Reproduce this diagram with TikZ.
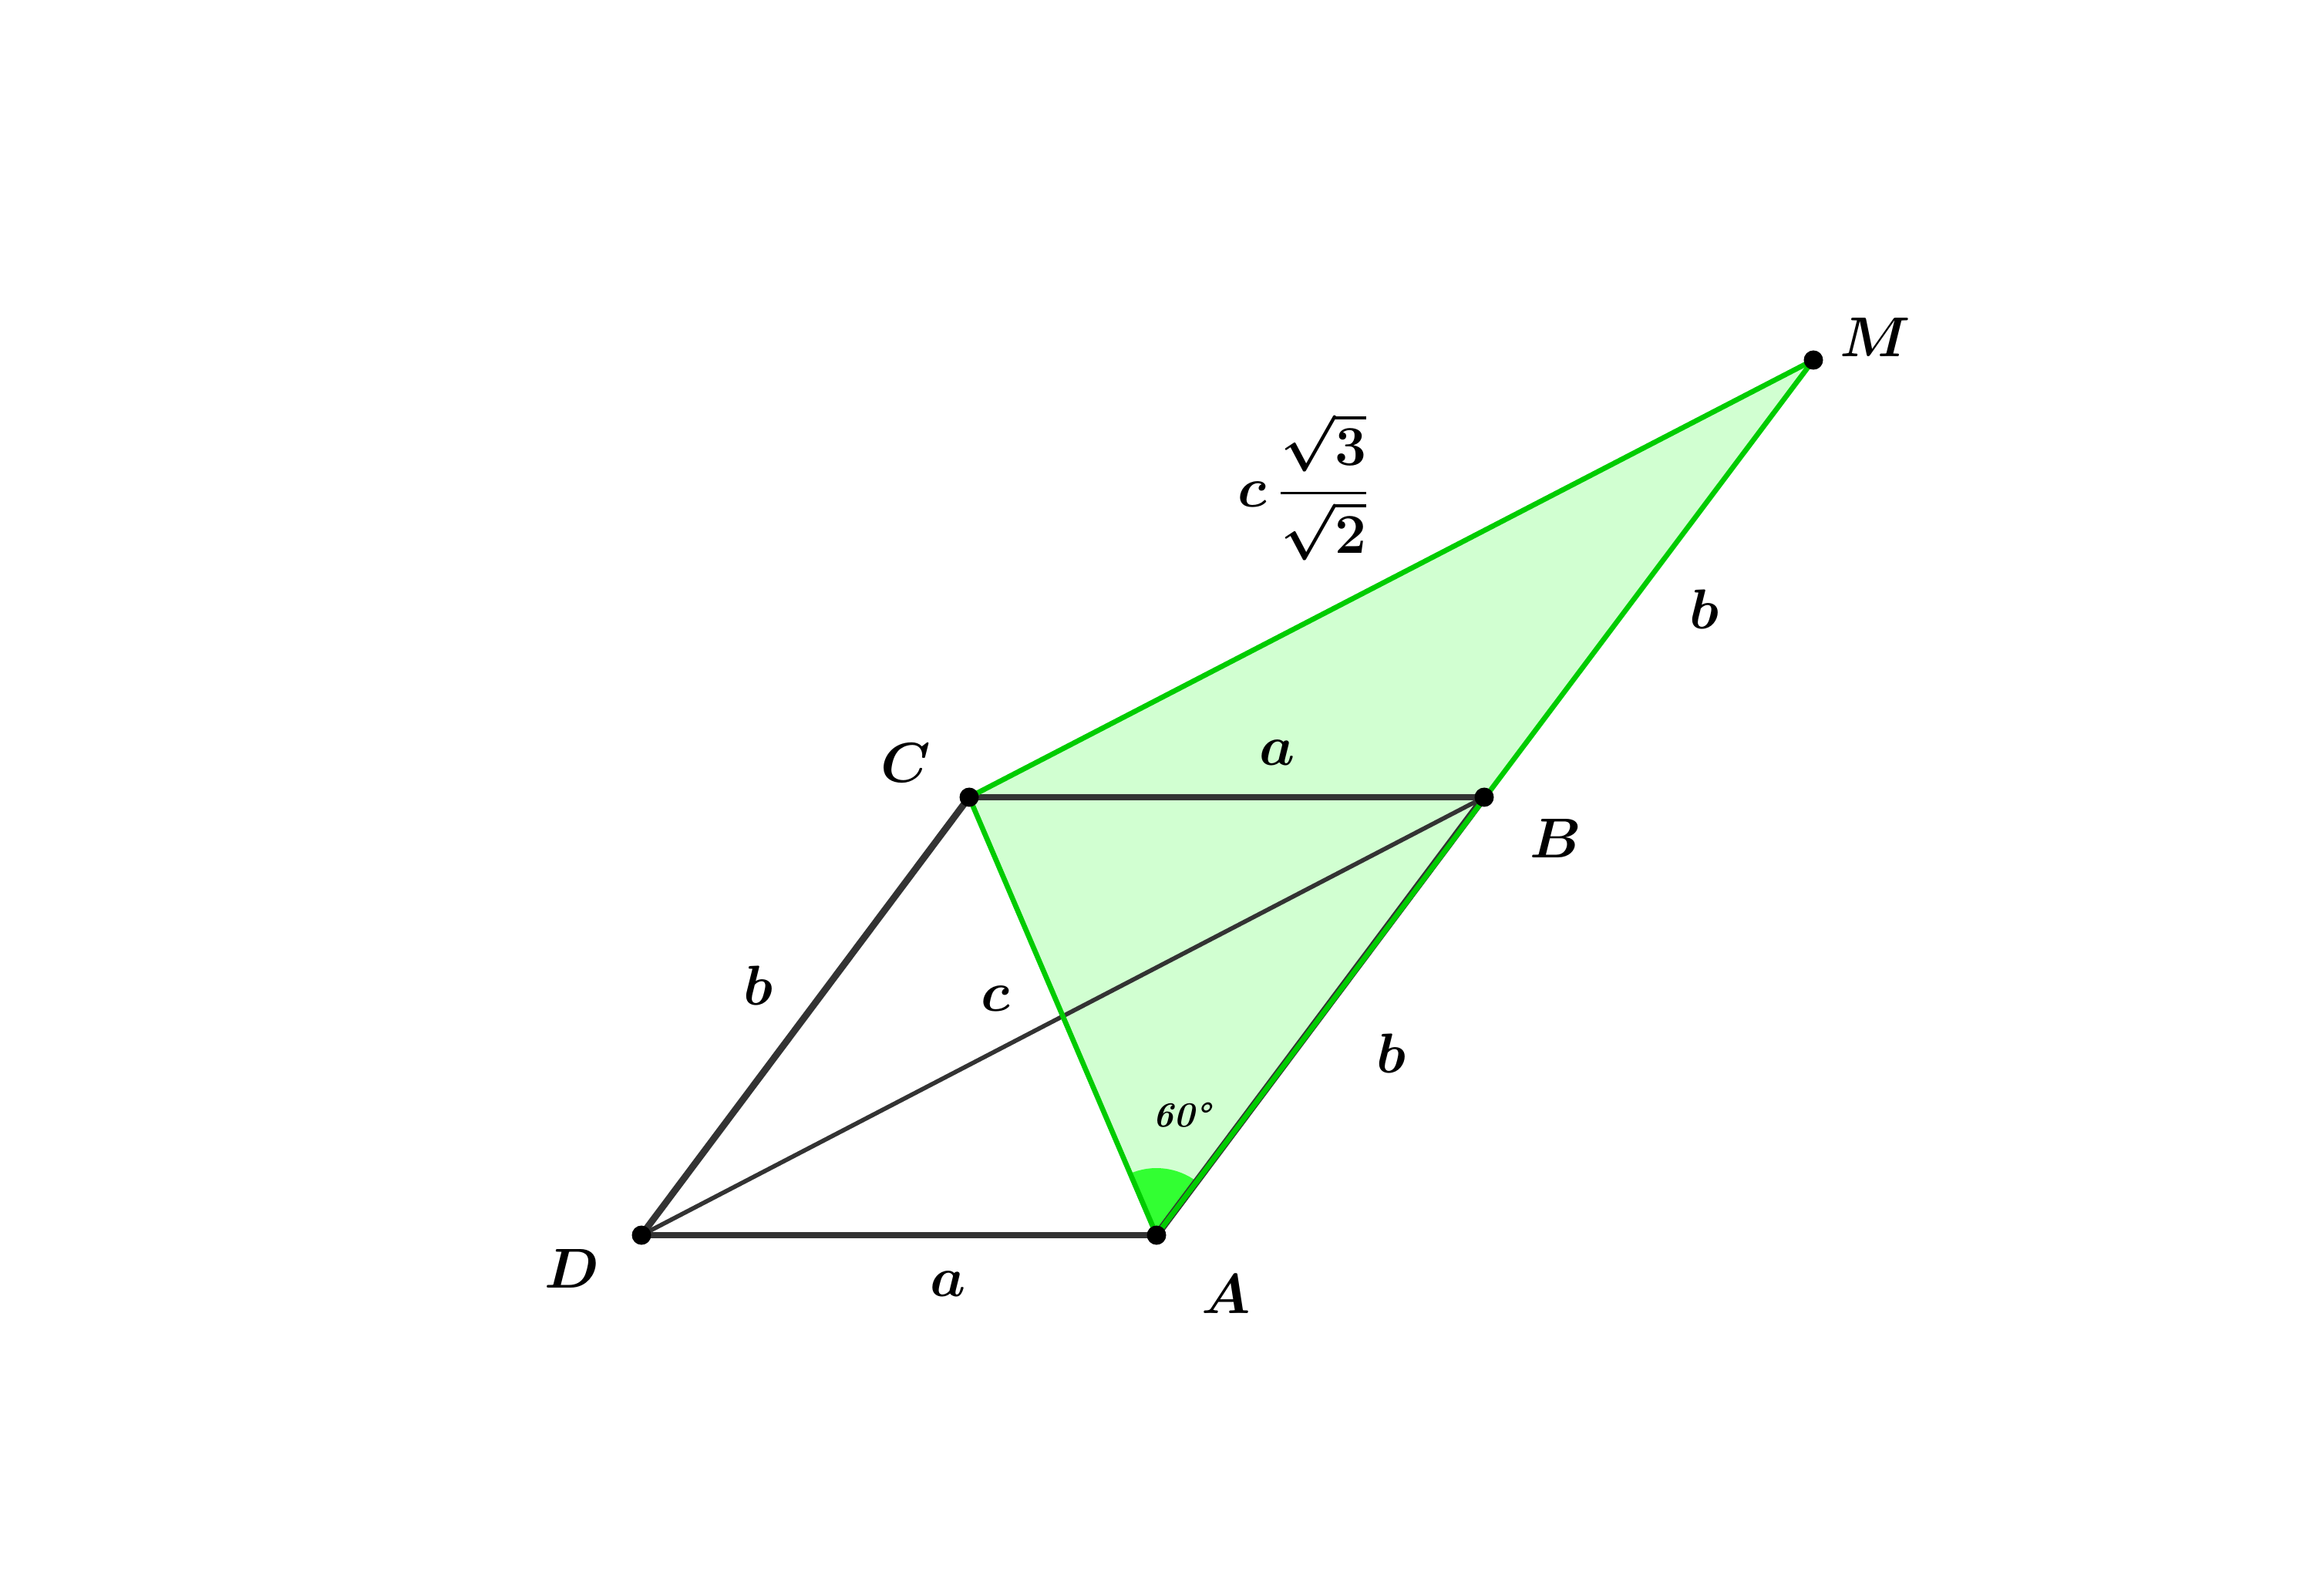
\documentclass[tikz,border=0pt]{standalone}
\usepackage{fontspec}
\usepackage{amsmath,amssymb}
\definecolor{gline}{RGB}{0,204,0}
\definecolor{gfill}{RGB}{0,255,0}
\definecolor{gsector}{RGB}{50,255,50}
\definecolor{dline}{RGB}{51,51,51}
\begin{document}
\begin{tikzpicture}[x=1cm,y=1cm,
  lbl/.style={font=\fontsize{20}{24}\selectfont\boldmath},
  darkedge/.style={draw=dline,line width=2.5pt},
  thinedge/.style={draw=dline,line width=1.6pt},
  greenedge/.style={draw=gline,line width=1.9pt},
  pt/.style={fill=black}]
\useasboundingbox (0,0) rectangle (30,20.69);
\coordinate (D) at (8.32,4.67);
\coordinate (A) at (15.00,4.67);
\coordinate (C) at (12.57,10.35);
\coordinate (B) at (19.25,10.35);
\coordinate (M) at (23.52,16.02);
% fill
\fill[gfill,opacity=0.18] (C) -- (M) -- (A) -- cycle;
% angle sector
\fill[gsector] (A) -- ++(113.2:0.87) arc[start angle=113.2,end angle=53.2,radius=0.87] -- cycle;
% dark lines
\draw[darkedge] (D) -- (A);
\draw[darkedge] (D) -- (C);
\draw[darkedge] (C) -- (B);
\draw[thinedge] (D) -- (B);
\draw[dline,line width=2.7pt] (A) -- (B);
% green lines
\draw[greenedge] (C) -- (M);
\draw[greenedge] (M) -- (A);
\draw[greenedge] (C) -- (A);
% points
\foreach \p in {D,A,C,B,M} \fill[pt] (\p) circle (0.125);
% labels
\node[lbl] (lM) at (24.32,16.31) {$\boldsymbol{M}$};
\node[lbl] (lC) at (11.75,10.80) {$\boldsymbol{C}$};
\node[lbl] (lB) at (20.18,9.82) {$\boldsymbol{B}$};
\node[lbl] (lD) at (7.42,4.24) {$\boldsymbol{D}$};
\node[lbl] (lA) at (15.90,3.91) {$\boldsymbol{A}$};
\node[lbl] (la1) at (16.57,10.93) {$\boldsymbol{a}$};
\node[lbl] (la2) at (12.30,4.04) {$\boldsymbol{a}$};
\node[lbl] (lb1) at (9.83,7.91) {$\boldsymbol{b}$};
\node[lbl] (lc) at (12.91,7.74) {$\boldsymbol{c}$};
\node[lbl] (lb2) at (18.04,7.03) {$\boldsymbol{b}$};
\node[lbl] (lb3) at (22.10,12.79) {$\boldsymbol{b}$};
\node[font=\fontsize{13}{15}\selectfont\bfseries\itshape] (l60) at (15.33,6.23) {60°};
\node[lbl] (lfrac) at (16.91,14.38) {$\displaystyle \boldsymbol{c}\,\frac{\sqrt{\boldsymbol{3}}}{\sqrt{\boldsymbol{2}}}$};
\end{tikzpicture}
\end{document}
